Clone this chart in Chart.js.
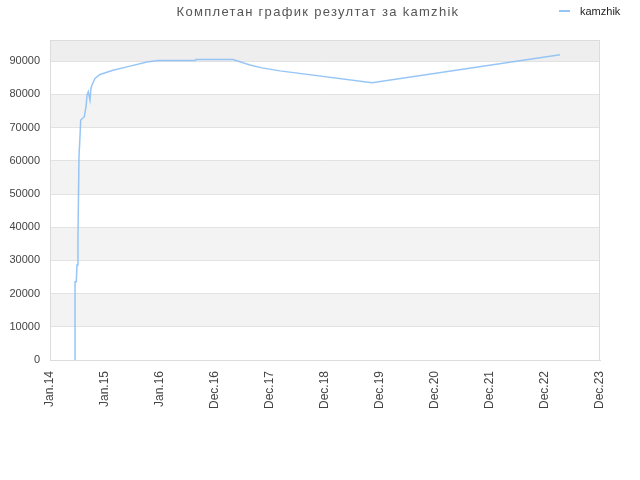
<!DOCTYPE html>
<html>
<head>
<meta charset="utf-8">
<script src="https://cdn.jsdelivr.net/npm/chart.js@4"></script>
<style>
  html, body { margin: 0; padding: 0; background: #fff; }
  #wrap { position: relative; width: 640px; height: 480px; }
  #title {
    position: absolute; left: 0; width: 636px; top: 4px;
    text-align: center; font: 13px "Liberation Sans", Arial, sans-serif;
    letter-spacing: 1.3px; color: #555;
  }
  #legend {
    position: absolute; left: 559px; top: 5px;
    font: 11px "Liberation Sans", Arial, sans-serif; color: #222;
  }
  #legend span.swatch {
    display: inline-block; width: 11px; height: 2px; background: #95c5f5;
    vertical-align: middle; margin-right: 10px; margin-top: -2px;
  }
</style>
</head>
<body>
<div id="wrap">
  <canvas id="chart" width="640" height="480"></canvas>
  <div id="title">Комплетан график резултат за kamzhik</div>
  <div id="legend"><span class="swatch"></span>kamzhik</div>
</div>
<script>
// x positions are in tick-index units (0 = Jan.14 ... 10 = Dec.23)
const tickLabels = ['Jan.14', 'Jan.15', 'Jan.16', 'Dec.16', 'Dec.17', 'Dec.18',
                    'Dec.19', 'Dec.20', 'Dec.21', 'Dec.22', 'Dec.23'];
const yTicks = [0, 10000, 20000, 30000, 40000, 50000, 60000, 70000, 80000, 90000];

const pointX = [0.455, 0.455, 0.478, 0.491, 0.509, 0.527, 0.545, 0.558, 0.624, 0.655,
                0.673, 0.696, 0.727, 0.745, 0.769, 0.818, 0.909, 1.145, 1.4, 1.764,
                1.964, 2.636, 2.655, 3.327, 3.636, 3.855, 4.182, 5.855, 9.273];
const pointY = [0, 23600, 23600, 28600, 37600, 61200, 67300, 72300, 73300, 76300,
                79800, 80800, 78300, 81800, 83100, 84800, 86000, 87300, 88300, 89800,
                90200, 90200, 90500, 90500, 88850, 88000, 87100, 83500, 91950];

const seriesName = 'kamzhik';

const bandsPlugin = {
  id: 'bands',
  beforeDraw(chart) {
    const { ctx, chartArea: a, scales: { y } } = chart;
    ctx.save();
    yTicks.forEach((v, i) => {
      if (i % 2 === 0) return;
      const next = i + 1 < yTicks.length ? yTicks[i + 1] : y.max;
      const top = y.getPixelForValue(next);
      const bot = y.getPixelForValue(v);
      ctx.fillStyle = (i + 1 >= yTicks.length) ? '#eeeeee' : '#f3f3f3';
      ctx.fillRect(a.left, top, a.right - a.left, bot - top);
    });
    ctx.restore();
  },
  afterDraw(chart) {
    const { ctx, chartArea: a } = chart;
    ctx.save();
    ctx.strokeStyle = '#dcdcdc';
    ctx.lineWidth = 1;
    ctx.strokeRect(a.left + 0.5, a.top + 0.5, a.right - a.left - 1, a.bottom - a.top);
    ctx.restore();
  }
};

new Chart(document.getElementById('chart'), {
  type: 'line',
  data: {
    datasets: [{
      label: seriesName,
      data: pointX.map((x, i) => ({ x, y: pointY[i] })),
      borderColor: 'rgba(140, 192, 245, 0.9)',
      borderWidth: 1.5,
      pointRadius: 0,
      tension: 0,
      fill: false
    }]
  },
  plugins: [bandsPlugin],
  options: {
    responsive: false,
    animation: false,
    layout: { padding: { top: 40, right: 40, left: 0, bottom: 0 } },
    plugins: {
      legend: { display: false },
      title: { display: false },
      tooltip: { enabled: false }
    },
    scales: {
      x: {
        type: 'linear',
        min: 0,
        max: 10,
        afterFit: (s) => { s.height = 120; },
        ticks: {
          stepSize: 1,
          autoSkip: false,
          minRotation: 90,
          maxRotation: 90,
          padding: 11,
          color: '#444',
          font: { family: '"Liberation Sans", Arial, sans-serif', size: 12 },
          callback: (v) => tickLabels[v] ?? ''
        },
        grid: { display: false, drawTicks: false },
        border: { color: '#dcdcdc' }
      },
      y: {
        min: 0,
        max: 96400,
        afterFit: (s) => { s.width = 50; },
        afterBuildTicks: (s) => { s.ticks = yTicks.map(v => ({ value: v })); },
        ticks: {
          padding: 10,
          color: '#444',
          font: { family: '"Liberation Sans", Arial, sans-serif', size: 11 },
          callback: (v) => String(v)
        },
        grid: { color: '#e2e2e2', drawTicks: false },
        border: { color: '#dcdcdc' }
      }
    }
  }
});
</script>
</body>
</html>
